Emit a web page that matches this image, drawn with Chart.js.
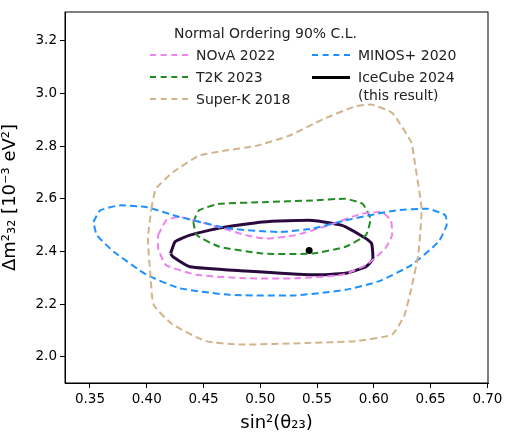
<!DOCTYPE html>
<html>
<head>
<meta charset="utf-8">
<script src="https://cdn.jsdelivr.net/npm/chart.js@4/dist/chart.umd.min.js"></script>
<style>
  body { margin: 0; background: #fff; font-family: "DejaVu Sans", sans-serif; }
  #wrap { position: relative; width: 512px; height: 434px; }
  .legend { position: absolute; font-size: 14px; color: #222; }
  .row { position: absolute; display: flex; align-items: center; white-space: nowrap; }
  .sw { width: 38px; height: 0; margin-right: 8px; }
</style>
</head>
<body>
<div id="wrap">
  <canvas id="c" width="512" height="434"></canvas>
  <div class="legend" style="left:0;top:0;width:512px;height:120px;">
    <div class="row" style="left:174px;top:25px;">Normal Ordering 90% C.L.</div>
    <div class="row" style="left:150px;top:47px;"><span class="sw" style="border-top:2px dashed #EE82EE"></span>NOvA 2022</div>
    <div class="row" style="left:150px;top:69px;"><span class="sw" style="border-top:2px dashed #228B22"></span>T2K 2023</div>
    <div class="row" style="left:150px;top:91px;"><span class="sw" style="border-top:2px dashed #D2B48C"></span>Super-K 2018</div>
    <div class="row" style="left:312px;top:47px;"><span class="sw" style="border-top:2px dashed #1E90FF"></span>MINOS+ 2020</div>
    <div class="row" style="left:312px;top:69px;"><span class="sw" style="border-top:3px solid #000"></span>IceCube 2024</div>
    <div class="row" style="left:358px;top:87px;">(this result)</div>
  </div>
</div>
<script>
const nova = [[0.410,2.462],[0.417,2.518],[0.429,2.531],[0.458,2.499],[0.487,2.462],[0.505,2.449],[0.531,2.462],[0.560,2.499],[0.589,2.543],[0.607,2.549],[0.615,2.518],[0.616,2.462],[0.610,2.411],[0.593,2.348],[0.572,2.311],[0.531,2.298],[0.487,2.298],[0.444,2.311],[0.417,2.348],[0.410,2.411]];
const t2k = [[0.441,2.512],[0.446,2.556],[0.464,2.581],[0.502,2.587],[0.546,2.594],[0.575,2.600],[0.590,2.581],[0.597,2.525],[0.593,2.462],[0.575,2.418],[0.546,2.392],[0.502,2.392],[0.464,2.418],[0.444,2.462]];
const superK = [[0.404,2.562],[0.408,2.638],[0.423,2.701],[0.446,2.764],[0.467,2.782],[0.496,2.801],[0.525,2.839],[0.555,2.902],[0.584,2.952],[0.598,2.958],[0.616,2.927],[0.633,2.814],[0.636,2.738],[0.642,2.562],[0.639,2.386],[0.633,2.260],[0.627,2.159],[0.616,2.084],[0.584,2.059],[0.540,2.052],[0.482,2.046],[0.452,2.059],[0.423,2.122],[0.406,2.197],[0.403,2.323],[0.401,2.449]];
const minos = [[0.353,2.512],[0.359,2.556],[0.376,2.575],[0.400,2.568],[0.429,2.531],[0.473,2.487],[0.517,2.474],[0.546,2.487],[0.575,2.518],[0.619,2.556],[0.648,2.562],[0.663,2.537],[0.664,2.499],[0.657,2.437],[0.633,2.348],[0.604,2.286],[0.575,2.254],[0.531,2.233],[0.473,2.235],[0.429,2.260],[0.400,2.311],[0.371,2.399],[0.356,2.462]];
const icecube = [[0.421,2.392],[0.425,2.437],[0.438,2.462],[0.464,2.489],[0.502,2.512],[0.546,2.518],[0.572,2.499],[0.593,2.449],[0.598,2.430],[0.599,2.371],[0.593,2.342],[0.575,2.317],[0.546,2.311],[0.487,2.326],[0.438,2.342],[0.423,2.380]];
const bestFit = [[0.543, 2.404]];

const closed = (arr) => [...arr, arr[0]].map(([x, y]) => ({ x, y }));
const contour = (data, color, dash, width) => ({
    data: closed(data), showLine: true, borderColor: color, borderWidth: width,
    borderDash: dash, pointRadius: 0, tension: 0.15, fill: false,
});

const frame = {
    id: 'frame',
    afterDraw(chart) {
        const { ctx, chartArea: a } = chart;
        ctx.save();
        ctx.strokeStyle = '#000';
        ctx.lineWidth = 1;
        ctx.strokeRect(a.left, a.top, a.right - a.left, a.bottom - a.top);
        ctx.restore();
    },
};

const tickFont = { family: 'DejaVu Sans', size: 13.5 };
new Chart(document.getElementById('c'), {
    type: 'scatter',
    plugins: [frame],
    data: {
        datasets: [
            contour(superK, '#D2B48C', [7, 4], 2),
            contour(minos, '#1E90FF', [7, 4], 2),
            contour(nova, '#EE82EE', [7, 4], 2),
            contour(t2k, '#228B22', [7, 4], 2),
            contour(icecube, '#2a0a3d', [], 3),
            { data: bestFit.map(([x, y]) => ({ x, y })), pointRadius: 3.5, backgroundColor: '#000', borderWidth: 0 },
        ],
    },
    options: {
        responsive: false,
        animation: false,
        layout: { padding: { left: 0, right: 24, top: 12, bottom: 0 } },
        plugins: { legend: { display: false }, tooltip: { enabled: false } },
        scales: {
            x: {
                min: 0.328, max: 0.7005,
                afterFit: (axis) => { axis.height = 51; },
                ticks: { stepSize: 0.05, includeBounds: false, color: '#000', font: tickFont, callback: (v) => v.toFixed(2) },
                grid: { drawOnChartArea: false, tickLength: 5, color: '#000' },
                border: { color: '#000' },
                title: { display: true, text: 'sin²(θ₂₃)', color: '#000', font: { family: 'DejaVu Sans', size: 18 }, padding: 0 },
            },
            y: {
                min: 1.90, max: 3.31,
                afterFit: (axis) => { axis.width = 65; },
                ticks: { stepSize: 0.2, includeBounds: false, color: '#000', font: tickFont, callback: (v) => v.toFixed(1) },
                grid: { drawOnChartArea: false, tickLength: 5, color: '#000' },
                border: { color: '#000' },
                title: { display: true, text: 'Δm²₃₂ [10⁻³ eV²]', color: '#000', font: { family: 'DejaVu Sans', size: 18 }, padding: 0 },
            },
        },
    },
});
</script>
</body>
</html>
